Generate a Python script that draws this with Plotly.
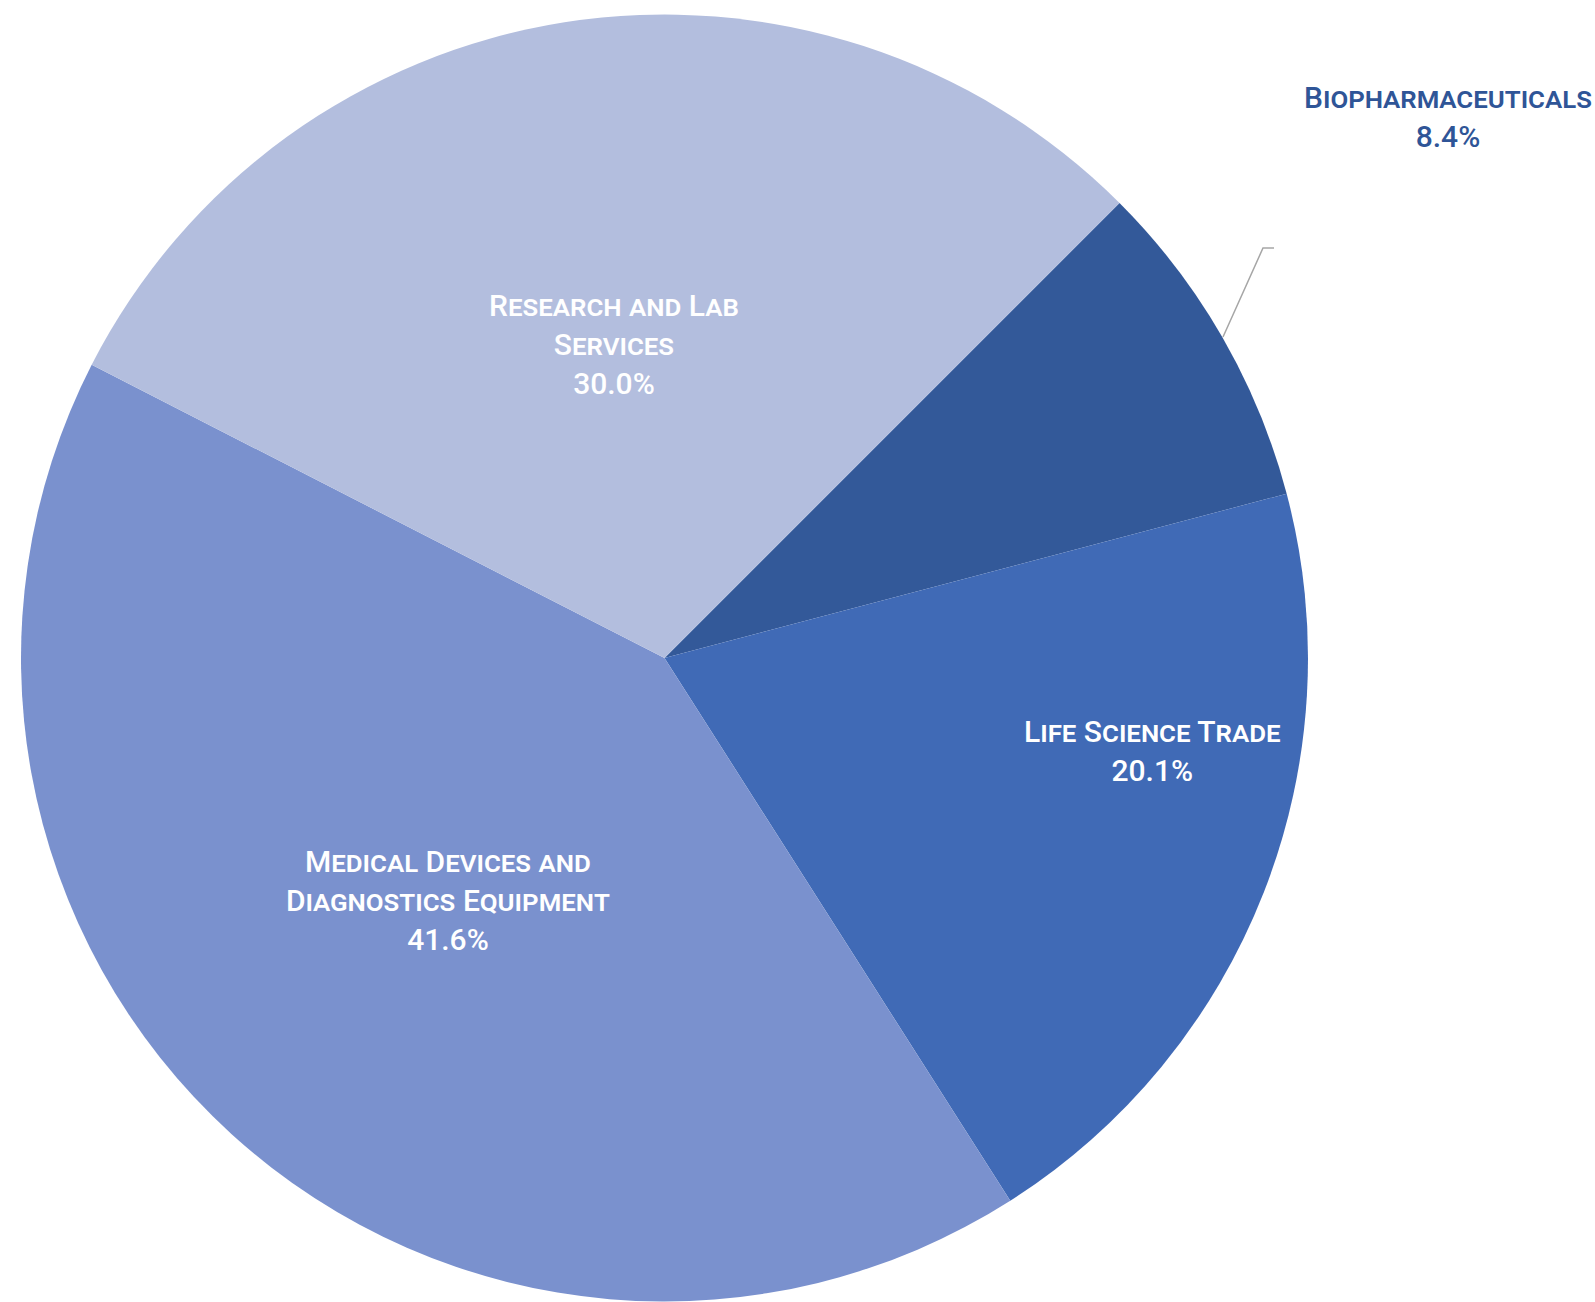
import plotly.graph_objects as go

# segment shares (%), clockwise from the 45 degree mark
labels = ['Biopharmaceuticals', 'Life Science Trade',
          'Medical Devices and Diagnostics Equipment', 'Research and Lab Services']
values = [8.4, 20.1, 41.6, 30.0]
# how each name is broken onto lines
label_lines = [['Biopharmaceuticals'], ['Life Science Trade'],
               ['Medical Devices and', 'Diagnostics Equipment'],
               ['Research and Lab', 'Services']]
colors = ['#335999', '#406ab6', '#7a91ce', '#b3bede']
label_colors = ['#2f5597', 'white', 'white', 'white']
# label centres in pixels
label_pos = [(1448, 117), (1152, 751), (448, 900), (614, 344)]

W, H = 1595, 1302

fig = go.Figure()
fig.add_trace(go.Pie(
    labels=labels,
    values=values,
    textinfo='none',
    marker=dict(colors=colors, line=dict(width=0)),
    sort=False,
    direction='clockwise',
    rotation=45,
    domain=dict(x=[21 / W, 1308 / W], y=[0, 1 - 14 / H]),
    showlegend=False,
    hoverinfo='label+percent',
))

total = sum(values)
for lines, v, c, (px, py) in zip(label_lines, values, label_colors, label_pos):
    txt = '<br>'.join(lines) + '<br>' + f'{v / total * 100:.1f}%'
    fig.add_annotation(
        x=px / W, y=1 - py / H, xref='paper', yref='paper',
        text=txt, showarrow=False, align='center',
        xanchor='center', yanchor='middle',
        font=dict(family='Roboto', size=30, weight=500, color=c,
                  variant='small-caps'),
    )

# leader line for the small slice
pts = [(1223, 337), (1263, 248), (1274, 248)]
path = 'M ' + ' L '.join(f'{x / W} {1 - y / H}' for x, y in pts)
fig.add_shape(type='path', path=path, xref='paper', yref='paper',
              line=dict(color='#a6a6a6', width=1.5))

fig.update_layout(
    width=W, height=H,
    margin=dict(l=0, r=0, t=0, b=0),
    paper_bgcolor='white',
    plot_bgcolor='white',
)

fig.write_html("out.html", config={'displayModeBar': False},
               post_script="document.body.style.margin='0';")
